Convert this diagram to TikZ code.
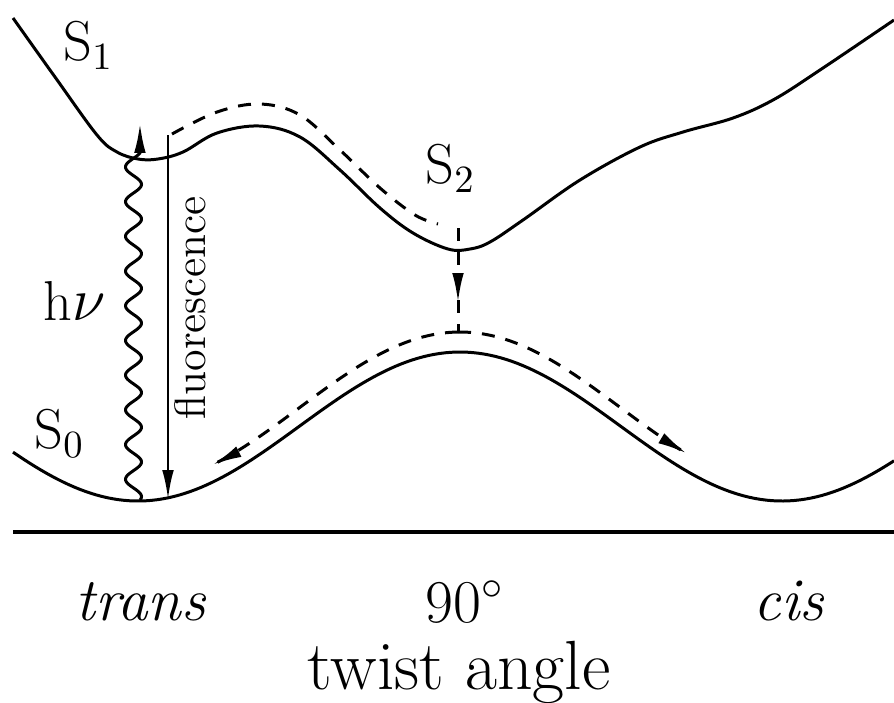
\documentclass[tikz,border=0pt]{standalone}
\usepackage{amsmath}
\usetikzlibrary{arrows.meta,decorations.markings,positioning}

\begin{document}
\begin{tikzpicture}[x=0.01cm,y=-0.01cm,>={Latex[length=8.5pt,width=3.3pt]},
  curve/.style={line width=0.85pt},
  pathdash/.style={line width=0.85pt,dash pattern=on 0.13cm off 0.11cm},
  lab/.style={inner sep=0pt,font=\fontsize{16}{19}\selectfont},
  axlab/.style={inner sep=0pt,font=\fontsize{17.3}{20}\selectfont}]
  \useasboundingbox (0,0) rectangle (894,702);
  % excited state S1
  \draw[curve] plot[smooth,tension=0.6] coordinates {(13,18) (55,77) (97,135) (117,152) (138,159)
    (158,159) (183,152) (217,133) (260,126) (300,137) (340,170) (380,208) (413,233) (448,249)
    (470,249) (490,242) (523,220) (580,180) (640,147) (683,132) (733,118) (773,100) (817,72) (894,20)};
  % ground state S0 (period 644 px, 360/644 = 0.559006)
  \draw[curve] plot[domain=13:894,samples=160] (\x,{426.5+74.5*cos(0.559006*(\x-138))});
  % axis
  \draw[line width=1.1pt] (13,532) -- (894,532);
  % absorption and fluorescence
  \coordinate (absTop) at (140,123);
  \coordinate (flTop) at (168,135); \coordinate (flBot) at (168,500);
  \draw[curve,->] plot[domain=0:10,samples=300] ({133.5+8*sin(360*\x+55)},{500-34.7*\x}) -- (absTop);
  \draw[curve,->] (flTop) -- (flBot);
  % relaxation paths
  \coordinate (s2Min) at (458,228); \coordinate (s0Top) at (458,332);
  \draw[pathdash] plot[smooth,tension=0.6] coordinates {(172,134) (217,112) (260,104) (300,115)
    (340,150) (380,188) (415,215) (438,224)};
  \draw[pathdash,postaction={decorate},
    decoration={markings,mark=at position 0.72 with {\arrow{>}}}] (s2Min) -- (s0Top);
  \draw[pathdash,->] plot[domain=458:212,samples=80] (\x,{408+76*cos(0.559006*(\x-138))});
  \draw[pathdash,->] plot[domain=458:687,samples=80] (\x,{408+76*cos(0.559006*(\x-138))});
  % labels
  \node[lab,anchor=base west] (s1Lab) at (63,60) {S$_1$};
  \node[lab,anchor=base west] (s2Lab) at (425,183) {S$_2$};
  \node[lab,anchor=base west] (s0Lab) at (34,448) {S$_0$};
  \node[lab,anchor=base west] (hnuLab) at (43,320) {h$\nu$};
  \node[inner sep=0pt,font=\fontsize{12.5}{15}\selectfont,rotate=90,anchor=base] (flLab) at (205,308) {fluorescence};
  \node[axlab,anchor=base] (transLab) at (141,620) {\textit{trans}};
  \node[axlab,anchor=base west] (ninetyLab) at (425,622) {$90^{\circ}$};
  \node[axlab,anchor=base] (cisLab) at (789,620) {\textit{cis}};
  \node[axlab,anchor=base,font=\fontsize{19.8}{23}\selectfont] (angleLab) at (459,689) {twist angle};
\end{tikzpicture}
\end{document}
